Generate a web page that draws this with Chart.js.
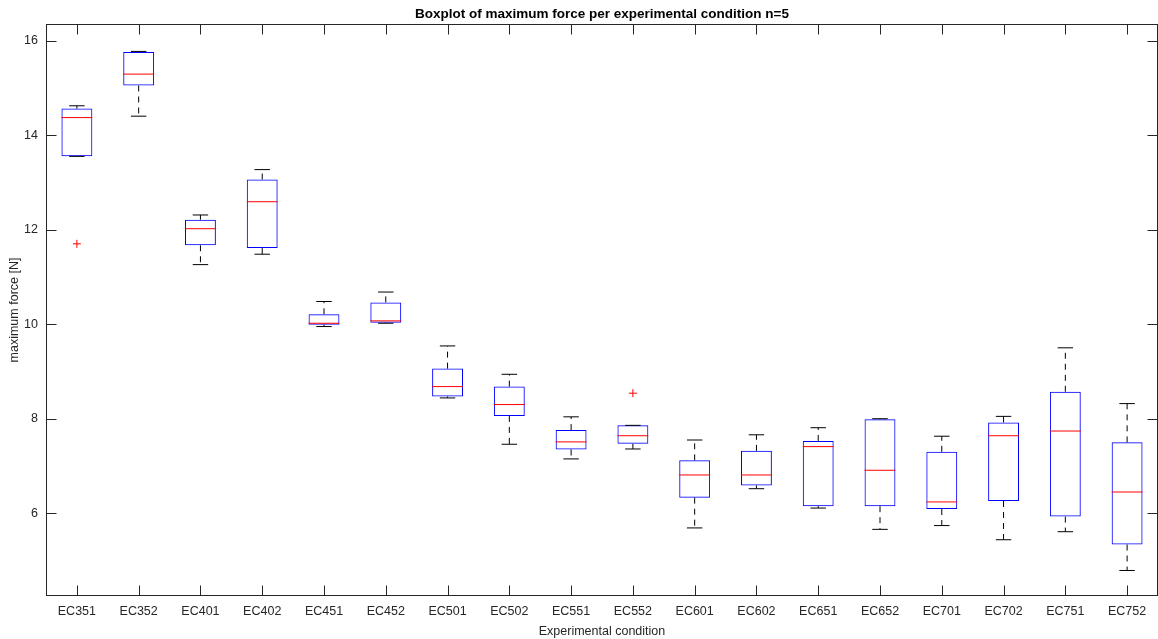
<!DOCTYPE html>
<html>
<head>
<meta charset="utf-8">
<script src="https://cdn.jsdelivr.net/npm/chart.js@4"></script>
<style>
    body { margin: 0; background: #fff; }
    #wrap { width: 1158px; height: 639px; position: relative; }
</style>
</head>
<body>
<div id="wrap"><canvas id="chart"></canvas></div>
<script>
const categories = ['EC351', 'EC352', 'EC401', 'EC402', 'EC451', 'EC452', 'EC501', 'EC502', 'EC551',
    'EC552', 'EC601', 'EC602', 'EC651', 'EC652', 'EC701', 'EC702', 'EC751', 'EC752'];

// five-number summaries
const whiskerLow  = [13.55, 14.40, 11.26, 11.48, 9.95, 10.02, 8.44, 7.46, 7.15, 7.36, 5.69, 6.52, 6.11, 5.66, 5.74, 5.44, 5.61, 4.79];
const boxLow      = [13.55, 15.05, 11.67, 11.61, 9.99, 10.03, 8.47, 8.06, 7.35, 7.47, 6.33, 6.59, 6.15, 6.15, 6.09, 6.26, 5.93, 5.34];
const medians     = [14.37, 15.29, 12.02, 12.59, 10.02, 10.07, 8.68, 8.30, 7.51, 7.64, 6.81, 6.81, 7.41, 6.91, 6.24, 7.64, 7.74, 6.45];
const boxHigh     = [14.56, 15.76, 12.21, 13.06, 10.21, 10.46, 9.06, 8.68, 7.76, 7.86, 7.12, 7.32, 7.53, 7.99, 7.30, 7.92, 8.57, 7.50];
const whiskerHigh = [14.62, 15.77, 12.31, 13.27, 10.48, 10.68, 9.54, 8.94, 8.04, 7.86, 7.55, 7.66, 7.81, 8.00, 7.63, 8.05, 9.50, 8.32];

const outlierCategory = ['EC351', 'EC552'];
const outlierValues = [11.70, 8.54];

const yTicks = [6, 8, 10, 12, 14, 16];

const TITLE = 'Boxplot of maximum force per experimental condition n=5';
const BOX_HALF = 0.25;
const CAP_HALF = 0.125;
const AXIS_COLOR = '#262626';
const FONT = 'Liberation Sans';

const pos = i => i + 1;

const boxes = categories.map((c, i) => ({ x: pos(i), y: [boxLow[i], boxHigh[i]] }));

const medianSegs = [];
const whiskerSegs = [];
const capSegs = [];
categories.forEach((c, i) => {
    const x = pos(i);
    medianSegs.push({ x: x - BOX_HALF, y: medians[i] }, { x: x + BOX_HALF, y: medians[i] }, { x: x, y: null });
    whiskerSegs.push({ x, y: boxHigh[i] }, { x, y: whiskerHigh[i] }, { x, y: null });
    whiskerSegs.push({ x, y: boxLow[i] }, { x, y: whiskerLow[i] }, { x, y: null });
    capSegs.push({ x: x - CAP_HALF, y: whiskerHigh[i] }, { x: x + CAP_HALF, y: whiskerHigh[i] }, { x, y: null });
    capSegs.push({ x: x - CAP_HALF, y: whiskerLow[i] }, { x: x + CAP_HALF, y: whiskerLow[i] }, { x, y: null });
});

const outliers = outlierCategory.map((c, k) => ({ x: pos(categories.indexOf(c)), y: outlierValues[k] }));

// MATLAB style frame with inward ticks on all four sides, title centred over the axes
const frameTicks = {
    id: 'frameTicks',
    afterDraw(chart) {
        const { ctx, chartArea: a, scales: { x, y } } = chart;
        const L = Math.round(a.left) + 0.5, R = Math.round(a.right) - 0.5;
        const T = Math.round(a.top) + 0.5, B = Math.round(a.bottom) - 0.5;
        ctx.save();
        ctx.strokeStyle = AXIS_COLOR;
        ctx.lineWidth = 1;
        ctx.beginPath();
        x.ticks.forEach(t => {
            const px = Math.round(x.getPixelForValue(t.value)) + 0.5;
            ctx.moveTo(px, B); ctx.lineTo(px, B - 10);
            ctx.moveTo(px, T); ctx.lineTo(px, T + 10);
        });
        y.ticks.forEach(t => {
            const py = Math.round(y.getPixelForValue(t.value)) + 0.5;
            ctx.moveTo(L, py); ctx.lineTo(L + 10, py);
            ctx.moveTo(R, py); ctx.lineTo(R - 10, py);
        });
        ctx.stroke();
        ctx.strokeRect(L, T, R - L, B - T);

        ctx.fillStyle = '#000';
        ctx.font = `bold 13.5px "${FONT}"`;
        ctx.textAlign = 'center';
        ctx.textBaseline = 'middle';
        ctx.fillText(TITLE, (a.left + a.right) / 2, 14);
        ctx.restore();
    },
};

new Chart(document.getElementById('chart'), {
    type: 'bar',
    data: {
        datasets: [
            {
                type: 'scatter',
                data: outliers,
                pointStyle: 'cross',
                pointRadius: 4,
                borderColor: '#ff0000',
                borderWidth: 1,
            },
            {
                type: 'line',
                data: medianSegs,
                borderColor: '#ff0000',
                borderWidth: 1,
                pointRadius: 0,
                spanGaps: false,
            },
            {
                type: 'line',
                data: capSegs,
                borderColor: '#000000',
                borderWidth: 1,
                pointRadius: 0,
                spanGaps: false,
            },
            {
                type: 'line',
                data: whiskerSegs,
                borderColor: '#000000',
                borderWidth: 1,
                borderDash: [6, 5],
                pointRadius: 0,
                spanGaps: false,
            },
            {
                type: 'bar',
                data: boxes,
                backgroundColor: 'rgba(0,0,0,0)',
                borderColor: '#0000ff',
                borderWidth: 1,
                borderSkipped: false,
                barPercentage: 0.5,
                categoryPercentage: 1,
                grouped: false,
            },
        ],
    },
    options: {
        responsive: true,
        maintainAspectRatio: false,
        animation: false,
        layout: { autoPadding: false, padding: { left: 0, right: 0, top: 24, bottom: 0 } },
        plugins: {
            legend: { display: false },
            tooltip: { enabled: false },
        },
        scales: {
            x: {
                type: 'linear',
                offset: false,
                min: 0.5,
                max: 18.5,
                afterBuildTicks: s => { s.ticks = categories.map((c, i) => ({ value: pos(i) })); },
                afterFit: s => { s.height = 43; s.paddingLeft = 0; s.paddingRight = 0; },
                grid: { display: false, drawTicks: false },
                border: { display: false },
                ticks: {
                    autoSkip: false,
                    maxRotation: 0,
                    padding: 8,
                    color: AXIS_COLOR,
                    font: { family: FONT, size: 12.5 },
                    callback: v => categories[Math.round(v) - 1],
                },
                title: {
                    display: true,
                    text: 'Experimental condition',
                    color: AXIS_COLOR,
                    font: { family: FONT, size: 12.5 },
                    padding: { top: 2, bottom: 0 },
                },
            },
            y: {
                min: 4.25,
                max: 16.35,
                afterBuildTicks: s => { s.ticks = yTicks.map(v => ({ value: v })); },
                afterFit: s => { s.width = 46; },
                grid: { display: false, drawTicks: false },
                border: { display: false },
                ticks: {
                    padding: 8,
                    color: AXIS_COLOR,
                    font: { family: FONT, size: 12.5 },
                },
                title: {
                    display: true,
                    text: 'maximum force [N]',
                    color: AXIS_COLOR,
                    font: { family: FONT, size: 12.5 },
                    padding: { top: 7, bottom: 0 },
                },
            },
        },
    },
    plugins: [frameTicks],
});
</script>
</body>
</html>
